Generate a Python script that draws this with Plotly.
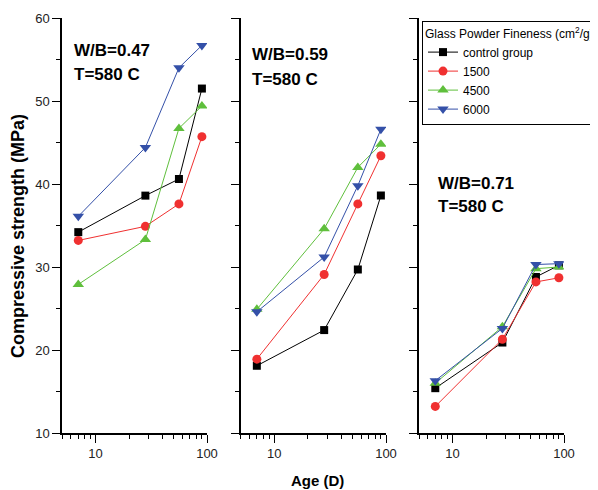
import numpy as np
import plotly.graph_objects as go

# page has an 8px body margin; figure covers window from (8,8)
OFF = 8
W, H = 598 - OFF, 490 - OFF

ages = [7, 28, 56, 90]
series_names = ["control group", "1500", "4500", "6000"]
panel_labels = ["W/B=0.47", "W/B=0.59", "W/B=0.71"]
temp_label = "T=580 C"

# values per panel (order: control, 1500, 4500, 6000)
wb047_control = [34.2, 38.6, 40.6, 51.5]
wb047_1500 = [33.2, 34.9, 37.6, 45.7]
wb047_4500 = [27.9, 33.3, 46.7, 49.4]
wb047_6000 = [36.1, 44.4, 54.0, 56.7]

wb059_control = [18.1, 22.4, 29.7, 38.6]
wb059_1500 = [18.9, 29.1, 37.6, 43.4]
wb059_4500 = [24.9, 34.6, 42.0, 44.8]
wb059_6000 = [24.6, 31.2, 39.8, 46.6]

wb071_control = [15.4, 20.9, 28.8, 30.2]
wb071_1500 = [13.2, 21.3, 28.2, 28.7]
wb071_4500 = [16.0, 22.8, 29.8, 30.0]
wb071_6000 = [16.3, 22.6, 30.3, 30.4]

y_ticks = [10, 20, 30, 40, 50, 60]
y_minor = [15, 25, 35, 45, 55]
x_ticks = [10, 100]
x_minor = [5, 6, 7, 8, 9, 20, 30, 40, 50, 60, 70, 80, 90]

colors = ["#000000", "#f03030", "#5fbf3c", "#3450a8"]
symbols = ["square", "circle", "triangle-up", "triangle-down"]
sizes = [8, 9, 10, 10]

panels = [
    [wb047_control, wb047_1500, wb047_4500, wb047_6000],
    [wb059_control, wb059_1500, wb059_4500, wb059_6000],
    [wb071_control, wb071_1500, wb071_4500, wb071_6000],
]


def px_x(px):
    return (px - OFF) / W


def px_y(py):
    return 1 - (py - OFF) / H


fig = go.Figure()
for p, data in enumerate(panels):
    xa = "x" if p == 0 else f"x{p+1}"
    ya = "y" if p == 0 else f"y{p+1}"
    for i, vals in enumerate(data):
        fig.add_trace(go.Scatter(
            x=ages, y=vals, mode="lines+markers", name=series_names[i],
            xaxis=xa, yaxis=ya, showlegend=(p == 2),
            line=dict(color=colors[i], width=1),
            marker=dict(symbol=symbols[i], size=sizes[i], color=colors[i],
                        line=dict(width=0)),
        ))

# pixel geometry (window coordinates)
x_px = [(62, 207), (240.5, 386), (419, 564)]
y_top, y_bot = 18, 433
ydom = [px_y(y_bot), px_y(y_top)]

axfont = dict(family="Liberation Sans, Arial, sans-serif", size=13, color="#222")
layout = dict(
    width=W, height=H,
    margin=dict(l=0, r=0, t=0, b=0, autoexpand=False),
    paper_bgcolor="white", plot_bgcolor="white",
    font=dict(family="Liberation Sans, Arial, sans-serif", color="#000"),
)
for p in range(3):
    xk = "xaxis" if p == 0 else f"xaxis{p+1}"
    yk = "yaxis" if p == 0 else f"yaxis{p+1}"
    xs = "x" if p == 0 else f"x{p+1}"
    ys = "y" if p == 0 else f"y{p+1}"
    layout[xk] = dict(
        type="log", domain=[px_x(x_px[p][0]), px_x(x_px[p][1])],
        range=[np.log10(5), 2], anchor=ys,
        showline=True, linecolor="#000", linewidth=1.5,
        showgrid=False, zeroline=False,
        tickmode="array", tickvals=x_ticks, ticktext=["10", "100"],
        ticks="outside", ticklen=8, tickwidth=1, tickcolor="#000",
        tickfont=axfont,
        minor=dict(tickmode="array", tickvals=x_minor, ticks="outside",
                   ticklen=4, tickwidth=1, tickcolor="#000", showgrid=False),
    )
    layout[yk] = dict(
        domain=ydom, range=[10, 60], anchor=xs,
        showline=True, linecolor="#000", linewidth=1.5,
        showgrid=False, zeroline=False,
        tickmode="array", tickvals=y_ticks,
        showticklabels=(p == 0),
        ticks="outside", ticklen=8, tickwidth=1, tickcolor="#000",
        tickfont=axfont,
        minor=dict(tickmode="array", tickvals=y_minor, ticks="outside",
                   ticklen=4, tickwidth=1, tickcolor="#000", showgrid=False),
    )

layout["legend"] = dict(
    x=px_x(422), y=px_y(21), xanchor="left", yanchor="top",
    bgcolor="white", bordercolor="#000", borderwidth=1,
    font=dict(family="Liberation Sans, Arial, sans-serif", size=12, color="#000"),
    title=dict(text="Glass Powder Fineness (cm<sup>2</sup>/g)",
               font=dict(family="Liberation Sans, Arial, sans-serif", size=12, color="#000")),
    tracegroupgap=0, itemwidth=30,
)
fig.update_layout(**layout)

lblfont = dict(family="Liberation Sans, Arial, sans-serif", size=17, color="#000", weight="bold")
label_pos = [(72, 50.5, 75), (250, 54, 79), (436, 183, 206.5)]
for p, (lx, ly1, ly2) in enumerate(label_pos):
    fig.add_annotation(text=panel_labels[p], x=px_x(lx), y=px_y(ly1), xref="paper", yref="paper",
                       xanchor="left", yanchor="middle", showarrow=False, font=lblfont)
    fig.add_annotation(text=temp_label, x=px_x(lx), y=px_y(ly2), xref="paper", yref="paper",
                       xanchor="left", yanchor="middle", showarrow=False, font=lblfont)

fig.add_annotation(text="Age (D)", x=px_x(317), y=px_y(480), xref="paper", yref="paper",
                   xanchor="center", yanchor="middle", showarrow=False,
                   font=dict(family="Liberation Sans, Arial, sans-serif", size=15, color="#000", weight="bold"))
fig.add_annotation(text="Compressive strength (MPa)", x=px_x(17.5), y=px_y(236.5), xref="paper", yref="paper",
                   xanchor="center", yanchor="middle", showarrow=False, textangle=-90,
                   font=dict(family="Liberation Sans, Arial, sans-serif", size=18, color="#000", weight="bold"))

fig.write_html("out.html")
